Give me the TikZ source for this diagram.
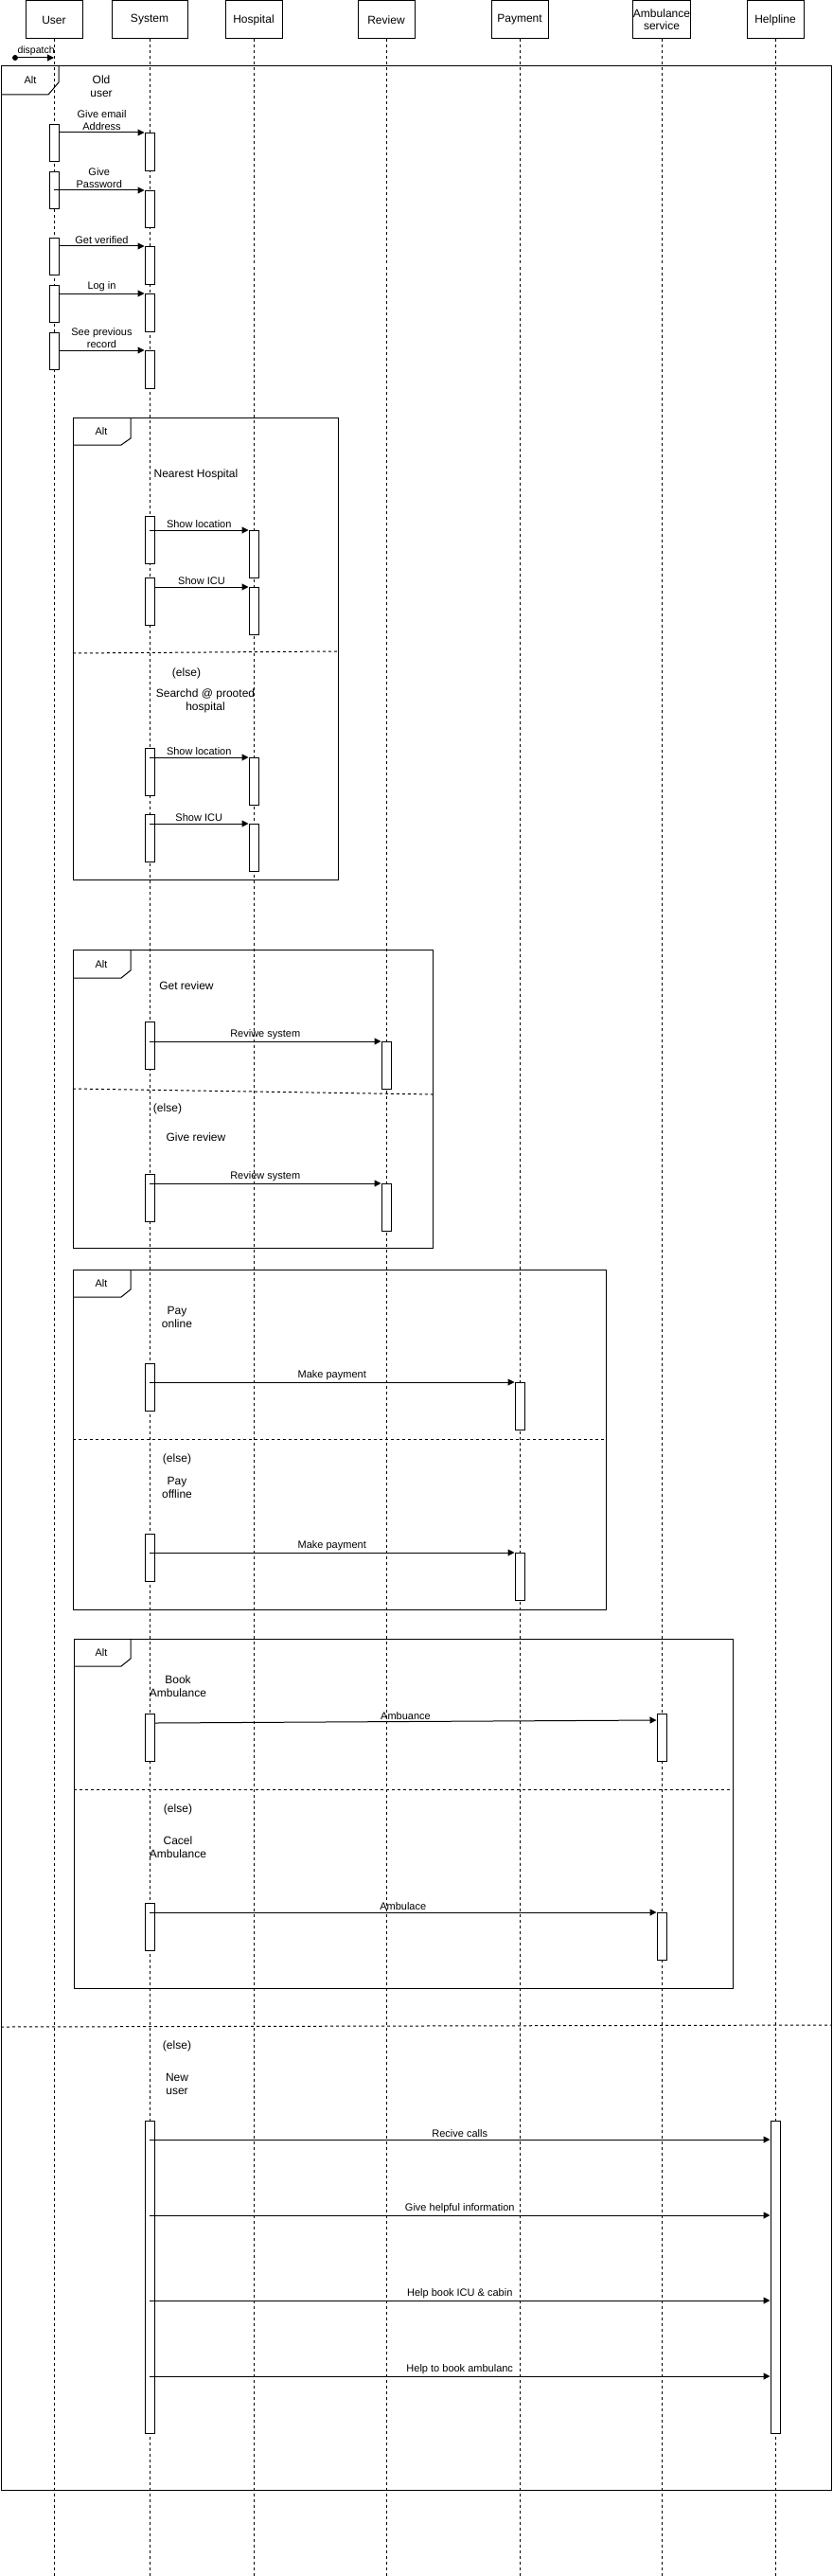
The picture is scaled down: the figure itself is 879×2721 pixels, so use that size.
\documentclass[tikz,border=0pt]{standalone}
\usepackage{fontspec}
\setmainfont{Liberation Sans}
\usetikzlibrary{positioning,arrows.meta,calc}

\tikzset{
 head/.style={draw, line width=1pt, minimum width=60pt, minimum height=40pt, inner sep=0pt, align=center, font=\fontsize{12}{13}\selectfont},
 life/.style={dash pattern=on 3pt off 3pt, line width=0.8pt},
 act/.style={draw, fill=white, line width=1pt, minimum width=10pt, inner sep=0pt, anchor=north},
 msg/.style={-{Triangle[length=7pt,width=7pt]}, line width=1pt},
 lbl/.style={above, inner sep=1.5pt, align=center, font=\fontsize{11}{13}\selectfont},
 cond/.style={align=center, inner sep=0pt, font=\fontsize{12}{14}\selectfont},
 altframe/.style={line width=1pt},
 altdiv/.style={dash pattern=on 3pt off 3pt, line width=1pt},
 alttag/.style={inner sep=0pt, font=\fontsize{11}{13}\selectfont},
}

\begin{document}
\begin{tikzpicture}[x=1pt,y=-1pt]
\useasboundingbox (0,0) rectangle (879,2721);
\coordinate (bot) at (0,2721);

\node[head] (user) at (57,21) {User};
\node[head, minimum width=80pt] (system) at (158,21) {System};
\node[head] (hospital) at (268,21) {Hospital};
\node[head] (review) at (408,21) {Review};
\node[head] (payment) at (549,21) {Payment};
\node[head] (ambulance) at (699,21) {Ambulance\\service};
\node[head] (helpline) at (819,21) {Helpline};

\draw[life] (user.south) -- (user.south |- bot);
\draw[life] (system.south) -- (system.south |- bot);
\draw[life] (hospital.south) -- (hospital.south |- bot);
\draw[life] (review.south) -- (review.south |- bot);
\draw[life] (payment.south) -- (payment.south |- bot);
\draw[life] (ambulance.south) -- (ambulance.south |- bot);
\draw[life] (helpline.south) -- (helpline.south |- bot);

\node[circle, fill, inner sep=0pt, minimum size=6pt] (disp) at (16,61) {};
\coordinate (dispend) at (user |- disp);
\draw[msg] (disp) -- (dispend) node[lbl, midway, font=\fontsize{10.5}{12}\selectfont] (mdisp) {dispatch};

% outer alt
\draw[altframe] (1,70) rectangle (878,2630);
\draw[altframe] (1,100) -- ++(50,0) -- ++(11,-13) -- ++(0,-17);
\node[alttag] (alt0) at (32,85) {Alt};
\node[cond] (c0) at (107,91) {Old\\user};
\draw[altdiv] (1,2141) -- (878,2139);
\node[cond] (c0e) at (187,2161) {(else)};
\node[cond] (c0n) at (187,2201) {New\\user};

\node[act, minimum height=39pt] (u1) at (user |- 0,131) {};
\node[act, minimum height=40pt] (s1) at (system |- 0,140) {};
\node[act, minimum height=39pt] (u2) at (user |- 0,181) {};
\node[act, minimum height=39pt] (s2) at (system |- 0,201) {};
\node[act, minimum height=39pt] (u3) at (user |- 0,251) {};
\node[act, minimum height=40pt] (s3) at (system |- 0,260) {};
\node[act, minimum height=39pt] (u4) at (user |- 0,301) {};
\node[act, minimum height=40pt] (s4) at (system |- 0,310) {};
\node[act, minimum height=39pt] (u5) at (user |- 0,351) {};
\node[act, minimum height=40pt] (s5) at (system |- 0,370) {};
\draw[msg] (u1.east |- s1.north) -- (s1.north west) node[lbl, midway] (m1) {Give email\\Address};
\draw[msg] (u2 |- s2.north) -- (s2.north west) node[lbl, midway] (m2) {Give\\Password};
\draw[msg] (u3.east |- s3.north) -- (s3.north west) node[lbl, midway] (m3) {Get verified};
\draw[msg] (u4.east |- s4.north) -- (s4.north west) node[lbl, midway] (m4) {Log in};
\draw[msg] (u5.east |- s5.north) -- (s5.north west) node[lbl, midway] (m5) {See previous\\record};

% alt hospital
\draw[altframe] (77,441) rectangle (357,929);
\draw[altframe] (77,470) -- ++(51,0) -- ++(10,-7) -- ++(0,-22);
\node[alttag] (alt1) at (107,456) {Alt};
\node[cond] (c1) at (207,501) {Nearest Hospital};
\draw[altdiv] (77,690) -- (357,688);
\node[cond] (c1e) at (197,711) {(else)};
\node[cond] (c1s) at (217,740) {Searchd @ prooted\\hospital};
\node[act, minimum height=50pt] (sa) at (system |- 0,545) {};
\node[act, minimum height=50pt] (ha) at (hospital |- 0,560) {};
\node[act, minimum height=50pt] (sb) at (system |- 0,610) {};
\node[act, minimum height=50pt] (hb) at (hospital |- 0,620) {};
\node[act, minimum height=50pt] (sc) at (system |- 0,790) {};
\node[act, minimum height=50pt] (hc) at (hospital |- 0,800) {};
\node[act, minimum height=50pt] (sd) at (system |- 0,860) {};
\node[act, minimum height=50pt] (hd) at (hospital |- 0,870) {};
\draw[msg] (sa |- ha.north) -- (ha.north west) node[lbl, midway] (m6) {Show location};
\draw[msg] (sb.east |- hb.north) -- (hb.north west) node[lbl, midway] (m7) {Show ICU};
\draw[msg] (sc |- hc.north) -- (hc.north west) node[lbl, midway] (m8) {Show location};
\draw[msg] (sd |- hd.north) -- (hd.north west) node[lbl, midway] (m9) {Show ICU};

% alt review
\draw[altframe] (77,1003) rectangle (457,1318);
\draw[altframe] (77,1033) -- ++(51,0) -- ++(10,-8) -- ++(0,-22);
\node[alttag] (alt2) at (107,1019) {Alt};
\node[cond] (c2) at (197,1041) {Get review};
\draw[altdiv] (77,1150) -- (457,1156);
\node[cond] (c2e) at (177,1171) {(else)};
\node[cond] (c2g) at (207,1201) {Give review};
\node[act, minimum height=50pt] (se) at (system |- 0,1079) {};
\node[act, minimum height=50pt] (re) at (review |- 0,1100) {};
\node[act, minimum height=50pt] (sf) at (system |- 0,1240) {};
\node[act, minimum height=50pt] (rf) at (review |- 0,1250) {};
\draw[msg] (se |- re.north) -- (re.north west) node[lbl, midway] (m10) {Reviwe system};
\draw[msg] (sf |- rf.north) -- (rf.north west) node[lbl, midway] (m11) {Review system};

% alt payment
\draw[altframe] (77,1341) rectangle (640,1700);
\draw[altframe] (77,1370) -- ++(51,0) -- ++(10,-8) -- ++(0,-21);
\node[alttag] (alt3) at (107,1356) {Alt};
\node[cond] (c3) at (187,1391) {Pay\\online};
\draw[altdiv] (77,1520) -- (640,1520);
\node[cond] (c3e) at (187,1541) {(else)};
\node[cond] (c3f) at (187,1571) {Pay\\offline};
\node[act, minimum height=50pt] (sg) at (system |- 0,1440) {};
\node[act, minimum height=50pt] (pg) at (payment |- 0,1460) {};
\node[act, minimum height=50pt] (sh) at (system |- 0,1620) {};
\node[act, minimum height=50pt] (ph) at (payment |- 0,1640) {};
\draw[msg] (sg |- pg.north) -- (pg.north west) node[lbl, midway] (m12) {Make payment};
\draw[msg] (sh |- ph.north) -- (ph.north west) node[lbl, midway] (m13) {Make payment};

% alt ambulance
\draw[altframe] (78,1731) rectangle (774,2100);
\draw[altframe] (78,1760) -- ++(50,0) -- ++(10,-8) -- ++(0,-21);
\node[alttag] (alt4) at (107,1746) {Alt};
\node[cond] (c4) at (188,1781) {Book\\Ambulance};
\draw[altdiv] (78,1890) -- (774,1890);
\node[cond] (c4e) at (188,1911) {(else)};
\node[cond] (c4c) at (188,1951) {Cacel\\Ambulance};
\node[act, minimum height=50pt] (si) at (system |- 0,1810) {};
\node[act, minimum height=50pt] (ai) at (ambulance |- 0,1810) {};
\node[act, minimum height=50pt] (sj) at (system |- 0,2010) {};
\node[act, minimum height=50pt] (aj) at (ambulance |- 0,2020) {};
\draw[msg] ([yshift=-10pt]si.north east) -- ([yshift=-7pt]ai.north west) node[lbl, midway] (m14) {Ambuance};
\draw[msg] (sj |- aj.north) -- (aj.north west) node[lbl, midway] (m15) {Ambulace};

% new user
\node[act, minimum height=330pt] (sk) at (system |- 0,2240) {};
\node[act, minimum height=330pt] (hk) at (helpline |- 0,2240) {};
\draw[msg] ([yshift=-20pt]sk.north) -- ([yshift=-20pt]hk.north west) node[lbl, midway] (m16) {Recive calls};
\draw[msg] ([yshift=-100pt]sk.north) -- ([yshift=-100pt]hk.north west) node[lbl, midway] (m17) {Give helpful information};
\draw[msg] ([yshift=-190pt]sk.north) -- ([yshift=-190pt]hk.north west) node[lbl, midway] (m18) {Help book ICU \& cabin};
\draw[msg] ([yshift=-270pt]sk.north) -- ([yshift=-270pt]hk.north west) node[lbl, midway] (m19) {Help to book ambulanc};
\end{tikzpicture}
\end{document}
